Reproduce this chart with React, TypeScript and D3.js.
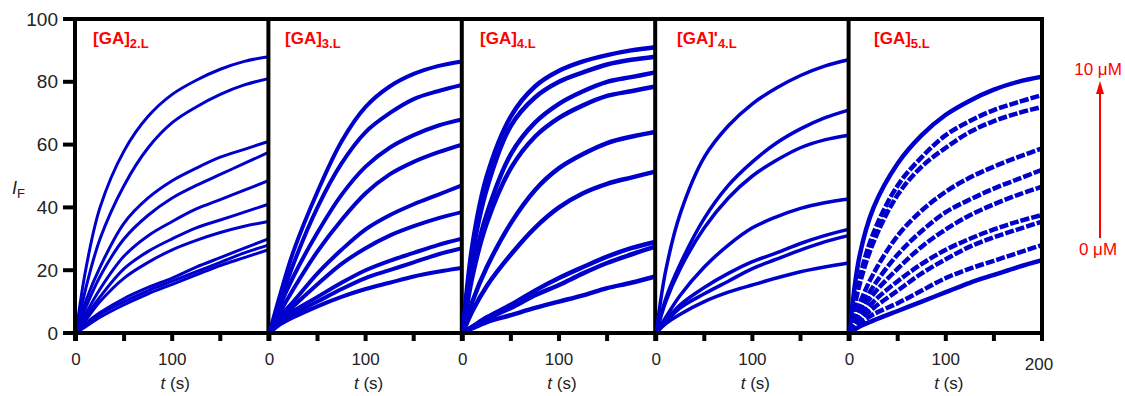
import * as d3 from "d3"

// time samples (s) shared by every trace
const T = [0, 10, 25, 50, 75, 100, 125, 150, 175, 200]

// fluorescence traces, top to bottom
const GA2 = [
  [0, 20, 40, 58, 69, 76, 80.5, 84, 86.5, 88],
  [0, 14, 30, 47, 59, 67, 72, 76, 79, 81],
  [0, 10, 21, 35, 43, 48.5, 52.5, 56, 58.5, 61],
  [0, 8, 18, 30, 37.5, 43, 47, 50.5, 54, 57.5],
  [0, 6, 14, 24.5, 31, 35.5, 39.5, 42.5, 45.5, 48.5],
  [0, 5, 11.5, 20.5, 26, 30, 33.5, 36, 38.5, 41],
  [0, 4, 10, 17.5, 22.5, 26.5, 29.5, 32, 34, 35.5],
  [0, 3, 6.5, 11, 14.5, 17.5, 21, 24, 27, 30],
  [0, 2.5, 6, 10, 13.5, 16.5, 19.5, 22.5, 25.5, 28],
  [0, 2, 5, 9, 12.5, 15.5, 18.5, 21.5, 24, 26.5],
]
const GA3 = [
  [0, 11, 26, 45, 61, 72, 78.5, 82.5, 85, 86.5],
  [0, 9, 22, 40, 54, 64, 70, 74.5, 77, 79],
  [0, 8, 18, 32, 44, 53, 59, 63, 66, 68],
  [0, 6, 14, 26, 36, 44.5, 50.5, 54.5, 57.5, 60],
  [0, 5, 10, 19, 26.5, 33, 37.5, 41, 44, 47],
  [0, 4, 8.5, 15.5, 22, 27, 31, 34, 36.5, 38.5],
  [0, 3.5, 7, 11.5, 16, 20, 23, 25.5, 28, 30],
  [0, 3, 6, 10, 14, 17.5, 20, 22.5, 25, 27],
  [0, 2.5, 5, 8.5, 11.5, 14, 16, 18, 19.5, 20.7],
]
const GA4 = [
  [0, 28, 50, 69, 78.5, 83.5, 86.5, 88.5, 90, 91],
  [0, 25, 46, 66, 75, 80, 83, 85.5, 87, 88],
  [0, 20, 38, 57, 67, 73, 77, 80, 81.5, 83],
  [0, 18, 35, 52.5, 62.5, 68.5, 72.5, 75.5, 77, 78.5],
  [0, 10, 21, 35, 45.5, 52.5, 57, 60.5, 62.5, 64],
  [0, 7, 15, 25, 33.5, 40, 44.5, 47.5, 49.5, 51.4],
  [0, 2, 5, 9, 13.5, 17.5, 21, 24.3, 27, 29],
  [0, 2, 4.5, 8, 12, 15.3, 19, 22.3, 25, 27.5],
  [0, 1.5, 3.5, 5.7, 8, 10, 12, 14.3, 16, 18],
]
const GA4b = [
  [0, 20, 38, 56, 66, 73, 78, 82, 85, 87],
  [0, 11, 22, 36.5, 47, 54.5, 60.5, 65, 68.5, 71],
  [0, 10, 20.5, 33.5, 43, 50, 55, 59, 61.5, 63],
  [0, 5, 12, 21, 28, 33.5, 37, 39.7, 41.5, 42.7],
  [0, 4, 9, 14.5, 19, 22.7, 25.5, 28.5, 31, 33],
  [0, 3.5, 8, 12.5, 16.5, 20.5, 23.5, 26.4, 29, 31],
  [0, 3, 6, 10, 13, 15.3, 17.5, 19.5, 21, 22.3],
]
const GA5 = [
  [0, 24, 40, 54, 63, 69.5, 74, 77.5, 80, 81.6],
  [0, 17, 32, 47, 56, 63, 67.5, 71, 73.5, 75.8],
  [0, 15, 29, 44, 53, 59, 64, 67.5, 70, 72],
  [0, 9, 19, 31, 39, 45, 49.5, 53, 56, 58.8],
  [0, 7, 15, 25, 32.5, 38.5, 42.5, 46, 49, 52],
  [0, 6, 12.5, 20.5, 27.5, 33, 37.5, 41, 44, 46.6],
  [0, 4.5, 10, 16.5, 22, 26.5, 30, 33, 35.5, 37.6],
  [0, 4, 8, 13.5, 19, 23.5, 27.5, 30.5, 33, 35.5],
  [0, 3, 6, 9.5, 13.5, 17.5, 20.5, 23, 25.5, 28],
  [0, 2, 4, 7, 10, 13, 16, 18.5, 21, 23.2],
]

const PANELS = [GA2, GA3, GA4, GA4b, GA5]
const TITLES = ["[GA]", "[GA]", "[GA]", "[GA]'", "[GA]"]
const SUBS = ["2.L", "3.L", "4.L", "4.L", "5.L"]
const TITLE_X = [93, 285, 480, 677, 874]
const LINE_W = [3, 4, 4.5, 3.5, 4.5]

const Y_TICKS = [0, 20, 40, 60, 80, 100]
const X_TICKS = [0, 50, 100, 150, 200]
const X_LABELS = [0, 100]

const X0 = 75
const PITCH = 193.4
const TOP = 19
const BOTTOM = 333
const BLUE = "#0000cc"
const RED = "#ff0000"
const FONT = "'Liberation Sans', Arial, sans-serif"

export default function App() {
  const y = d3.scaleLinear().domain([0, 100]).range([BOTTOM, TOP])
  const right = X0 + PITCH * PANELS.length

  return (
    <svg
      width={1125}
      height={396}
      style={{ position: "absolute", left: 0, top: 0, background: "#fff" }}
      fontFamily={FONT}
    >
      <defs>
        {PANELS.map((_, i) => (
          <clipPath id={`clip${i}`} key={i}>
            <rect x={X0 + i * PITCH} y={TOP} width={PITCH} height={BOTTOM - TOP} />
          </clipPath>
        ))}
      </defs>

      {PANELS.map((curves, i) => {
        const x = d3
          .scaleLinear()
          .domain([0, 200])
          .range([X0 + i * PITCH + 1, X0 + (i + 1) * PITCH])
        const line = d3
          .line<number>()
          .x((_, j) => x(T[j]))
          .y((d) => y(d))
          .curve(d3.curveCatmullRom.alpha(0.5))
        return (
          <g key={i}>
            <g clipPath={`url(#clip${i})`}>
              {curves.map((c, k) => (
                <path
                  key={k}
                  d={line(c) ?? ""}
                  fill="none"
                  stroke={BLUE}
                  strokeWidth={LINE_W[i]}
                  strokeDasharray={i === 4 && k > 0 && k < 9 ? "9 2" : undefined}
                />
              ))}
            </g>
            {/* x ticks */}
            {X_TICKS.map((t) => (
              <line key={t} x1={x(t)} x2={x(t)} y1={BOTTOM} y2={BOTTOM + 8} stroke="#000" strokeWidth={4} />
            ))}
            {X_LABELS.map((t) => (
              <text key={t} x={x(t)} y={365} textAnchor="middle" fontSize={17} fill="#222">
                {t}
              </text>
            ))}
            {i === PANELS.length - 1 && (
              <text x={x(200) - 3} y={370} textAnchor="middle" fontSize={17} fill="#222">
                200
              </text>
            )}
            <text x={x(100) + 3} y={389} textAnchor="middle" fontSize={17} fill="#222">
              <tspan fontStyle="italic">t</tspan> (s)
            </text>
            {/* panel title */}
            <text x={TITLE_X[i]} y={44} fill={RED} fontWeight="bold" fontSize={17}>
              {TITLES[i]}
              <tspan fontSize={13} dy={4}>
                {SUBS[i]}
              </tspan>
            </text>
            {/* divider */}
            <line x1={X0 + (i + 1) * PITCH} x2={X0 + (i + 1) * PITCH} y1={TOP} y2={BOTTOM} stroke="#000" strokeWidth={4} />
          </g>
        )
      })}

      {/* frame */}
      <line x1={X0 - 2} x2={right + 2} y1={TOP} y2={TOP} stroke="#000" strokeWidth={4} />
      <line x1={X0 - 2} x2={right + 2} y1={BOTTOM} y2={BOTTOM} stroke="#000" strokeWidth={4} />
      <line x1={X0} x2={X0} y1={TOP} y2={BOTTOM + 8} stroke="#000" strokeWidth={4} />

      {/* y axis */}
      {Y_TICKS.map((v) => (
        <g key={v}>
          <line x1={X0 - 12} x2={X0} y1={y(v)} y2={y(v)} stroke="#000" strokeWidth={4} />
          <text x={58} y={y(v) + 6.5} textAnchor="end" fontSize={19} fill="#222">
            {v}
          </text>
        </g>
      ))}
      <text x={12} y={194} fontSize={18} fill="#222">
        <tspan fontStyle="italic">I</tspan>
        <tspan fontSize={13} dy={4}>F</tspan>
      </text>

      {/* concentration arrow */}
      <text x={1098} y={75} textAnchor="middle" fontSize={17} fill={RED}>
        10 μM
      </text>
      <line x1={1100} x2={1100} y1={238} y2={90} stroke={RED} strokeWidth={2} />
      <polygon points="1100,81 1096,94 1104,94" fill={RED} />
      <text x={1098} y={255} textAnchor="middle" fontSize={17} fill={RED}>
        0 μM
      </text>
    </svg>
  )
}
